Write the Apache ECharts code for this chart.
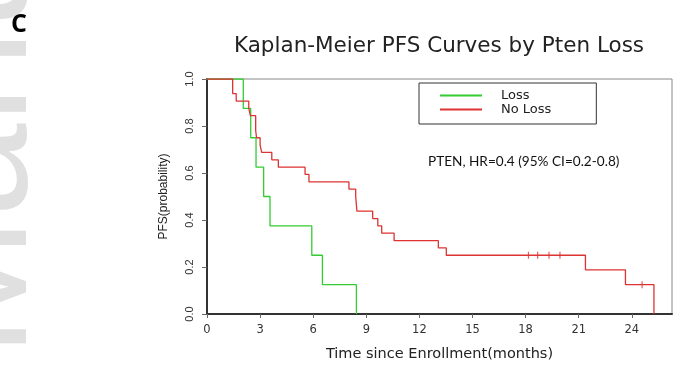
<!DOCTYPE html>
<html>
<head>
<meta charset="utf-8">
<script src="https://cdn.jsdelivr.net/npm/echarts@6/dist/echarts.min.js"></script>
<style>
  html, body { margin: 0; padding: 0; background: #fff; }
  #chart { width: 680px; height: 370px; }
</style>
</head>
<body>
<div id="chart"></div>
<script>
// Kaplan-Meier step points: time (months) and PFS probability after each drop
const lossTimes = [0, 2.05, 2.47, 2.77, 3.2, 3.56, 5.92, 6.52, 8.44]
const lossSurv = [1, 0.875, 0.75, 0.625, 0.5, 0.375, 0.25, 0.125, 0]

const noLossTimes = [0, 1.45, 1.65, 2.36, 2.45, 2.75, 2.8, 3.0, 3.09, 3.66, 4.03, 5.54, 5.76,
  8.02, 8.4, 8.47, 9.36, 9.65, 9.87, 10.57, 13.07, 13.52, 21.38, 23.64, 25.25]
const noLossSurv = [1, 0.938, 0.906, 0.875, 0.844, 0.781, 0.75, 0.719, 0.688, 0.656, 0.625, 0.594, 0.562,
  0.531, 0.5, 0.438, 0.406, 0.375, 0.344, 0.312, 0.281, 0.25, 0.188, 0.125, 0]

// censored observations (No Loss arm)
const censorTimes = [18.16, 18.68, 19.32, 19.94, 24.58]
const censorSurv = [0.25, 0.25, 0.25, 0.25, 0.125]

const xTicks = [0, 3, 6, 9, 12, 15, 18, 21, 24]
const seriesNames = ['Loss', 'No Loss']

const GREEN = '#33cc33'
const RED = '#dd3333'
const rFont = 'DejaVu Sans'

const zip = (xs, ys) => xs.map((x, i) => [x, ys[i]])

const chart = echarts.init(document.getElementById('chart'))

const option = {
  animation: false,
  backgroundColor: '#fff',
  title: {
    text: 'Kaplan-Meier PFS Curves by Pten Loss',
    left: 434,
    top: 30,
    textAlign: 'center',
    textStyle: { fontFamily: rFont, fontSize: 21.5, fontWeight: 'normal', color: '#222' }
  },
  graphic: [
    {
      // faint journal watermark cut off at the left edge
      type: 'text', x: -20, y: 357, rotation: Math.PI / 2, z: -10,
      style: { text: 'Manuscript', font: '168px "Liberation Sans"', fill: '#e0e0e0', textAlign: 'left', textVerticalAlign: 'middle' }
    },
    {
      type: 'text', x: 11, y: 25,
      style: { text: 'C', font: 'bold 25px "Open Sans"', fill: '#000', textAlign: 'left', textVerticalAlign: 'middle' }
    },
    {
      type: 'text', x: 428, y: 162,
      style: { text: 'PTEN, HR=0.4 (95% CI=0.2-0.8)', font: '13.6px Lato', fill: '#111', textAlign: 'left', textVerticalAlign: 'middle' }
    }
  ],
  legend: {
    data: seriesNames,
    orient: 'vertical',
    left: 419,
    top: 83,
    padding: [6, 45, 8, 21],
    itemGap: 1,
    itemWidth: 42,
    itemHeight: 2,
    icon: 'rect',
    borderColor: '#333',
    borderWidth: 1,
    textStyle: { fontFamily: rFont, fontSize: 13, color: '#222', padding: [0, 0, 0, 14] }
  },
  grid: {
    left: 207, right: 8, top: 79, bottom: 56,
    show: true, borderColor: '#888', borderWidth: 1
  },
  xAxis: {
    type: 'value',
    min: 0,
    max: 26.27,
    name: 'Time since Enrollment(months)',
    nameLocation: 'middle',
    nameGap: 33,
    nameTextStyle: { fontFamily: rFont, fontSize: 14.5, color: '#222' },
    axisLine: { lineStyle: { color: '#333', width: 2 } },
    axisTick: { customValues: xTicks, length: 4, lineStyle: { color: '#666' } },
    axisLabel: {
      customValues: xTicks,
      margin: 10,
      fontFamily: rFont, fontSize: 11.5, color: '#333'
    },
    splitLine: { show: false }
  },
  yAxis: {
    type: 'value',
    min: 0,
    max: 1,
    interval: 0.2,
    name: 'PFS(probability)',
    nameLocation: 'middle',
    nameGap: 37,
    nameTextStyle: { fontFamily: 'Liberation Sans', fontSize: 12, color: '#222' },
    axisLine: { show: true, lineStyle: { color: '#333', width: 2 } },
    axisTick: { show: true, length: 5, lineStyle: { color: '#666' } },
    axisLabel: {
      rotate: 90,
      margin: 12,
      fontFamily: 'Liberation Sans', fontSize: 11, color: '#333',
      formatter: v => v.toFixed(1)
    },
    splitLine: { show: false }
  },
  series: [
    {
      name: seriesNames[0],
      type: 'line',
      step: 'end',
      data: zip(lossTimes, lossSurv),
      showSymbol: false,
      color: GREEN,
      lineStyle: { color: GREEN, width: 1.3 }
    },
    {
      name: seriesNames[1],
      type: 'line',
      step: 'end',
      data: zip(noLossTimes, noLossSurv),
      showSymbol: false,
      color: RED,
      lineStyle: { color: RED, width: 1.3 }
    },
    {
      name: 'censored',
      type: 'scatter',
      data: zip(censorTimes, censorSurv),
      symbol: 'rect',
      symbolSize: [1.2, 7],
      itemStyle: { color: RED },
      silent: true
    }
  ]
}

chart.setOption(option)
</script>
</body>
</html>
